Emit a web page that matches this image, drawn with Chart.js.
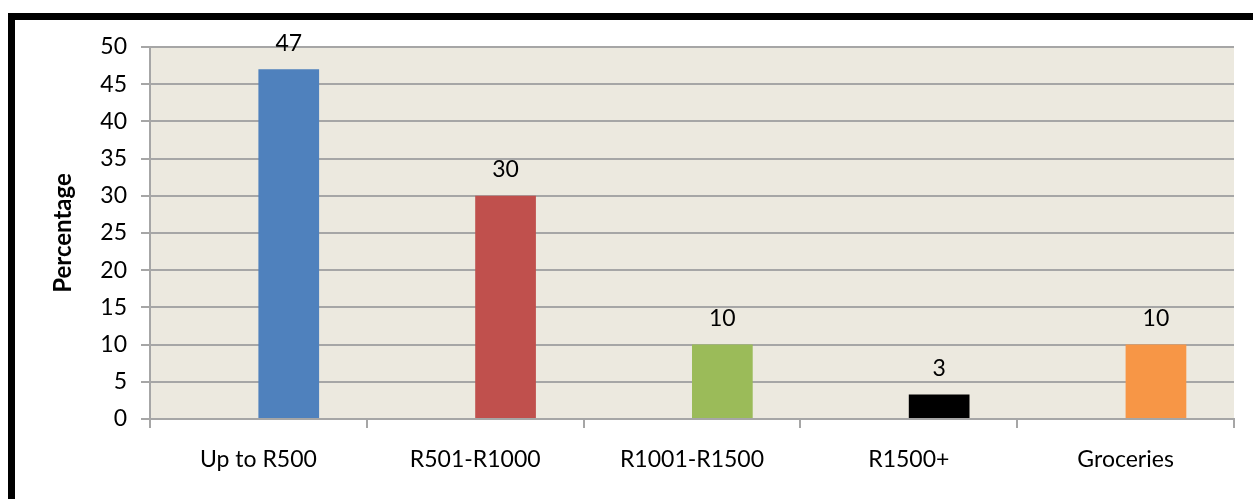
<!DOCTYPE html>
<html>
<head>
<meta charset="utf-8">
<script src="https://cdn.jsdelivr.net/npm/chart.js@4"></script>
<style>
  html, body { margin: 0; padding: 0; background: #fff; }
  body { width: 1253px; height: 499px; position: relative; overflow: hidden; }
  #frame {
    position: absolute; left: 8px; top: 13px; width: 1300px; height: 600px;
    border-left: 7px solid #000; border-top: 7px solid #000;
  }
  #wrap { position: absolute; left: 0; top: 0; width: 1253px; height: 499px; }
</style>
</head>
<body>
<div id="frame"></div>
<div id="wrap"><canvas id="spendChart"></canvas></div>
<script>
// ─── Data ─────────────────────────────────────────────────────────
const CATEGORIES = ['Up to R500', 'R501-R1000', 'R1001-R1500', 'R1500+', 'Groceries'];
const PERCENTAGES = [47, 30, 10, 3.3, 10];
const VALUE_LABELS = ['47', '30', '10', '3', '10'];
const EMPTY_SERIES = [null, null, null, null, null];   // blank series Excel left in
const Y_TICKS = [0, 5, 10, 15, 20, 25, 30, 35, 40, 45, 50];

const BAR_COLORS = ['#4F81BD', '#C0504D', '#9BBB59', '#000000', '#F79646'];
const FONT = "Lato, 'Open Sans', sans-serif";

// Plot area fill
const plotBg = {
    id: 'plotBg',
    beforeDraw(chart) {
        const { ctx, chartArea: a } = chart;
        ctx.save();
        ctx.fillStyle = '#ECE9DF';
        ctx.fillRect(a.left, a.top, a.right - a.left, a.bottom - a.top);
        ctx.restore();
    }
};

// Value labels above bars
const valueLabels = {
    id: 'valueLabels',
    afterDatasetsDraw(chart) {
        const { ctx } = chart;
        const meta = chart.getDatasetMeta(1);
        ctx.save();
        ctx.font = `23px ${FONT}`;
        ctx.fillStyle = '#000';
        ctx.textAlign = 'center';
        ctx.textBaseline = 'middle';
        meta.data.forEach((bar, i) => {
            ctx.fillText(VALUE_LABELS[i], bar.x, bar.y - 26);
        });
        ctx.restore();
    }
};

new Chart(document.getElementById('spendChart'), {
    type: 'bar',
    data: {
        labels: CATEGORIES,
        datasets: [
            { label: 'blank', data: EMPTY_SERIES, backgroundColor: 'transparent' },
            {
                label: 'Percentage',
                data: PERCENTAGES,
                backgroundColor: BAR_COLORS,
                borderWidth: 0
            }
        ]
    },
    options: {
        responsive: true,
        maintainAspectRatio: false,
        animation: false,
        categoryPercentage: 0.56,
        barPercentage: 1.0,
        layout: { padding: { left: 47, right: 19, top: 47, bottom: 0 } },
        plugins: {
            legend: { display: false },
            tooltip: { enabled: false }
        },
        scales: {
            x: {
                afterFit(scale) { scale.height = 80; },
                ticks: { color: '#000', font: { family: FONT, size: 23 }, padding: 18, maxRotation: 0 },
                grid: { drawOnChartArea: false, tickLength: 9, color: '#A6A6A6', lineWidth: 2 },
                border: { color: '#A6A6A6', width: 2 }
            },
            y: {
                min: 0,
                max: 50,
                afterFit(scale) { scale.width = 103; },
                afterBuildTicks(scale) { scale.ticks = Y_TICKS.map(v => ({ value: v })); },
                ticks: { color: '#000', font: { family: FONT, size: 23 }, padding: 14 },
                grid: { color: '#A6A6A6', lineWidth: 2, tickLength: 9 },
                border: { color: '#A6A6A6', width: 2 },
                title: {
                    display: true,
                    text: 'Percentage',
                    color: '#000',
                    font: { family: FONT, size: 24, weight: 'bold' },
                    padding: { top: 2, bottom: 0 }
                }
            }
        }
    },
    plugins: [plotBg, valueLabels]
});
</script>
</body>
</html>
